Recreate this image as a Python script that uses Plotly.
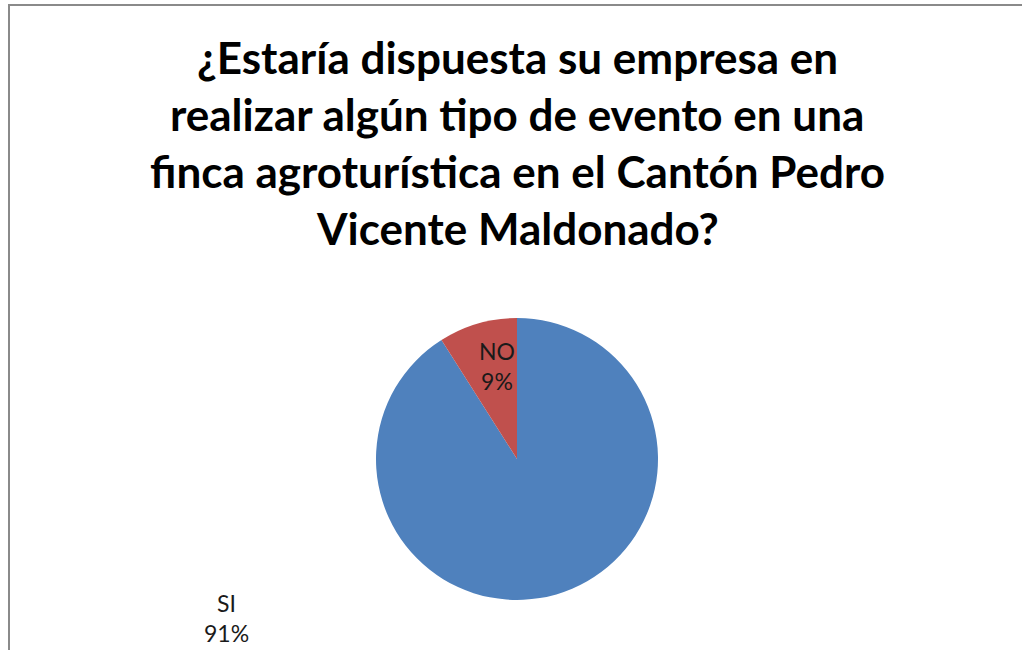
import plotly.graph_objects as go

labels = ["SI", "NO"]
values = [91, 9]
colors = ["#4F81BD", "#C0504D"]
title_lines = [
    "¿Estaría dispuesta su empresa en",
    "realizar algún tipo de evento en una",
    "finca agroturística en el Cantón Pedro",
    "Vicente Maldonado?",
]

W, H = 1022, 650
cx, cy, r = 517, 459, 141

fig = go.Figure()
fig.add_trace(go.Pie(
    labels=labels, values=values, sort=False, direction="clockwise",
    rotation=0, marker=dict(colors=colors, line=dict(width=0)),
    textinfo="none", hoverinfo="label+percent", showlegend=False,
    domain=dict(x=[(cx - r) / W, (cx + r) / W], y=[1 - (cy + r) / H, 1 - (cy - r) / H]),
))

annotations = []
title_y = [57, 114, 171, 228]
for line, ty in zip(title_lines, title_y):
    annotations.append(dict(
        text=f"<b>{line}</b>", x=cx / W, y=1 - ty / H, xref="paper", yref="paper",
        xanchor="center", yanchor="middle", showarrow=False,
        font=dict(family="Lato", size=44, color="#000000"),
    ))

total = sum(values)
label_pos = {"NO": (497, 366), "SI": (226, 618)}
for lab, v in zip(labels, values):
    px, py = label_pos[lab]
    annotations.append(dict(
        text=f"{lab}<br>{round(100 * v / total)}%", x=px / W, y=1 - py / H,
        xref="paper", yref="paper", xanchor="center", yanchor="middle",
        showarrow=False, font=dict(family="Lato", size=23, color="#1a1a1a"),
    ))

fig.update_layout(
    width=W, height=H, margin=dict(l=0, r=0, t=0, b=0),
    paper_bgcolor="white", plot_bgcolor="white",
    annotations=annotations,
    shapes=[dict(type="rect", xref="paper", yref="paper",
                 x0=9 / W, x1=1.02, y0=-0.02, y1=1 - 5 / H,
                 line=dict(color="#8a8a8a", width=2))],
)

fig.write_html("out.html", config={"displayModeBar": False},
               post_script="document.body.style.margin='0';document.body.style.overflow='hidden';")
